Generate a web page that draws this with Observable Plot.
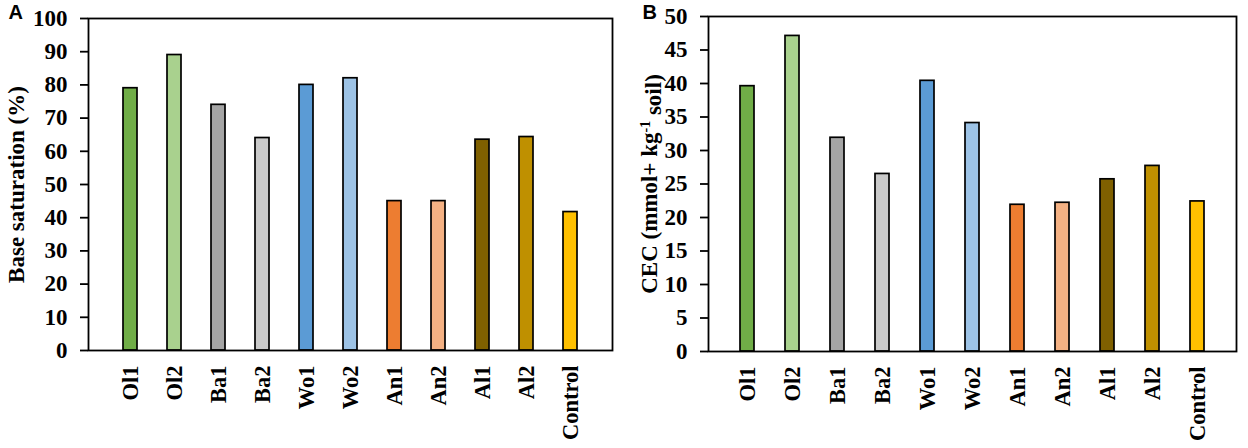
<!DOCTYPE html>
<html>
<head>
<meta charset="utf-8">
<script src="https://cdn.jsdelivr.net/npm/d3@7"></script>
<script src="https://cdn.jsdelivr.net/npm/@observablehq/plot@0.6"></script>
<style>
  body { margin: 0; background: #fff; }
  #wrap { display: flex; width: 1248px; height: 448px; }
  #wrap > div { width: 624px; height: 448px; }
</style>
</head>
<body>
<div id="wrap"><div id="a"></div><div id="b"></div></div>
<script>
const treatments = ["Ol1","Ol2","Ba1","Ba2","Wo1","Wo2","An1","An2","Al1","Al2","Control"];
const colors = ["#70AD47","#A9D18E","#A5A5A5","#C9C9C9","#5B9BD5","#9DC3E6","#ED7D31","#F4B183","#7F6000","#BF9000","#FFC000"];
const baseSaturation = [79, 89, 74, 64, 80, 82, 45, 45, 63.5, 64.3, 41.7];
const cec = [39.6, 47.1, 31.9, 26.5, 40.4, 34.1, 21.9, 22.2, 25.7, 27.7, 22.4];
const ticksA = [0,10,20,30,40,50,60,70,80,90,100];
const ticksB = [0,5,10,15,20,25,30,35,40,45,50];
const labelA = "Base saturation (%)";
const labelB = ["CEC (mmol+ kg", "-1", " soil)"];

function panel({values, ticks, domain, yLabel, letter, marginLeft, marginTop, marginBottom, labelDx, letterDx}) {
  const data = treatments.map((t, i) => ({t, v: values[i], c: colors[i]}));
  return Plot.plot({
    width: 624,
    height: 448,
    marginLeft,
    marginRight: 12,
    marginTop,
    marginBottom,
    style: {fontFamily: "'Liberation Serif', 'Times New Roman', serif", fontSize: "22px", fontWeight: "bold", color: "black", background: "white", overflow: "visible"},
    x: {domain: treatments, padding: 0.68, label: null},
    y: {domain, ticks, label: null},
    marks: [
      Plot.barY(data, {x: "t", y: "v", fill: "c", stroke: "black", strokeWidth: 1.7}),
      Plot.frame({stroke: "black", strokeWidth: 1.8}),
      Plot.axisY({ticks, tickSize: 8, tickPadding: 13, strokeWidth: 1.8, fontSize: 23}),
      Plot.axisX({tickSize: 0, tickRotate: -90, tickPadding: 15, fontSize: 22.5}),
      Plot.text([yLabel], {frameAnchor: "left", dx: labelDx, rotate: -90, fontSize: 23, fontWeight: "bold", textAnchor: "middle", lineAnchor: "middle", className: "ylab"}),
      Plot.text([letter], {frameAnchor: "top-left", dx: letterDx, dy: -marginTop + 12, fontSize: 20, fontWeight: "bold", fontFamily: "'Liberation Sans', Arial, sans-serif", textAnchor: "start", lineAnchor: "middle"})
    ]
  });
}

document.getElementById("a").append(panel({
  values: baseSaturation, ticks: ticksA, domain: [0, 100], yLabel: labelA, letter: "A",
  marginLeft: 88, marginTop: 18, marginBottom: 98, labelDx: -72, letterDx: -80
}));
const pb = panel({
  values: cec, ticks: ticksB, domain: [0, 50], yLabel: labelB.join(""), letter: "B",
  marginLeft: 84, marginTop: 16, marginBottom: 97, labelDx: -59, letterDx: -66
});
document.getElementById("b").append(pb);
// superscript for kg-1
d3.select(pb).selectAll("g.ylab text").each(function() {
  const t = d3.select(this);
  t.text(null);
  t.append("tspan").text(labelB[0]);
  t.append("tspan").attr("font-size", 14).attr("dy", "-0.5em").text(labelB[1]);
  t.append("tspan").attr("dy", "0.5em").text(labelB[2]);
});
</script>
</body>
</html>
